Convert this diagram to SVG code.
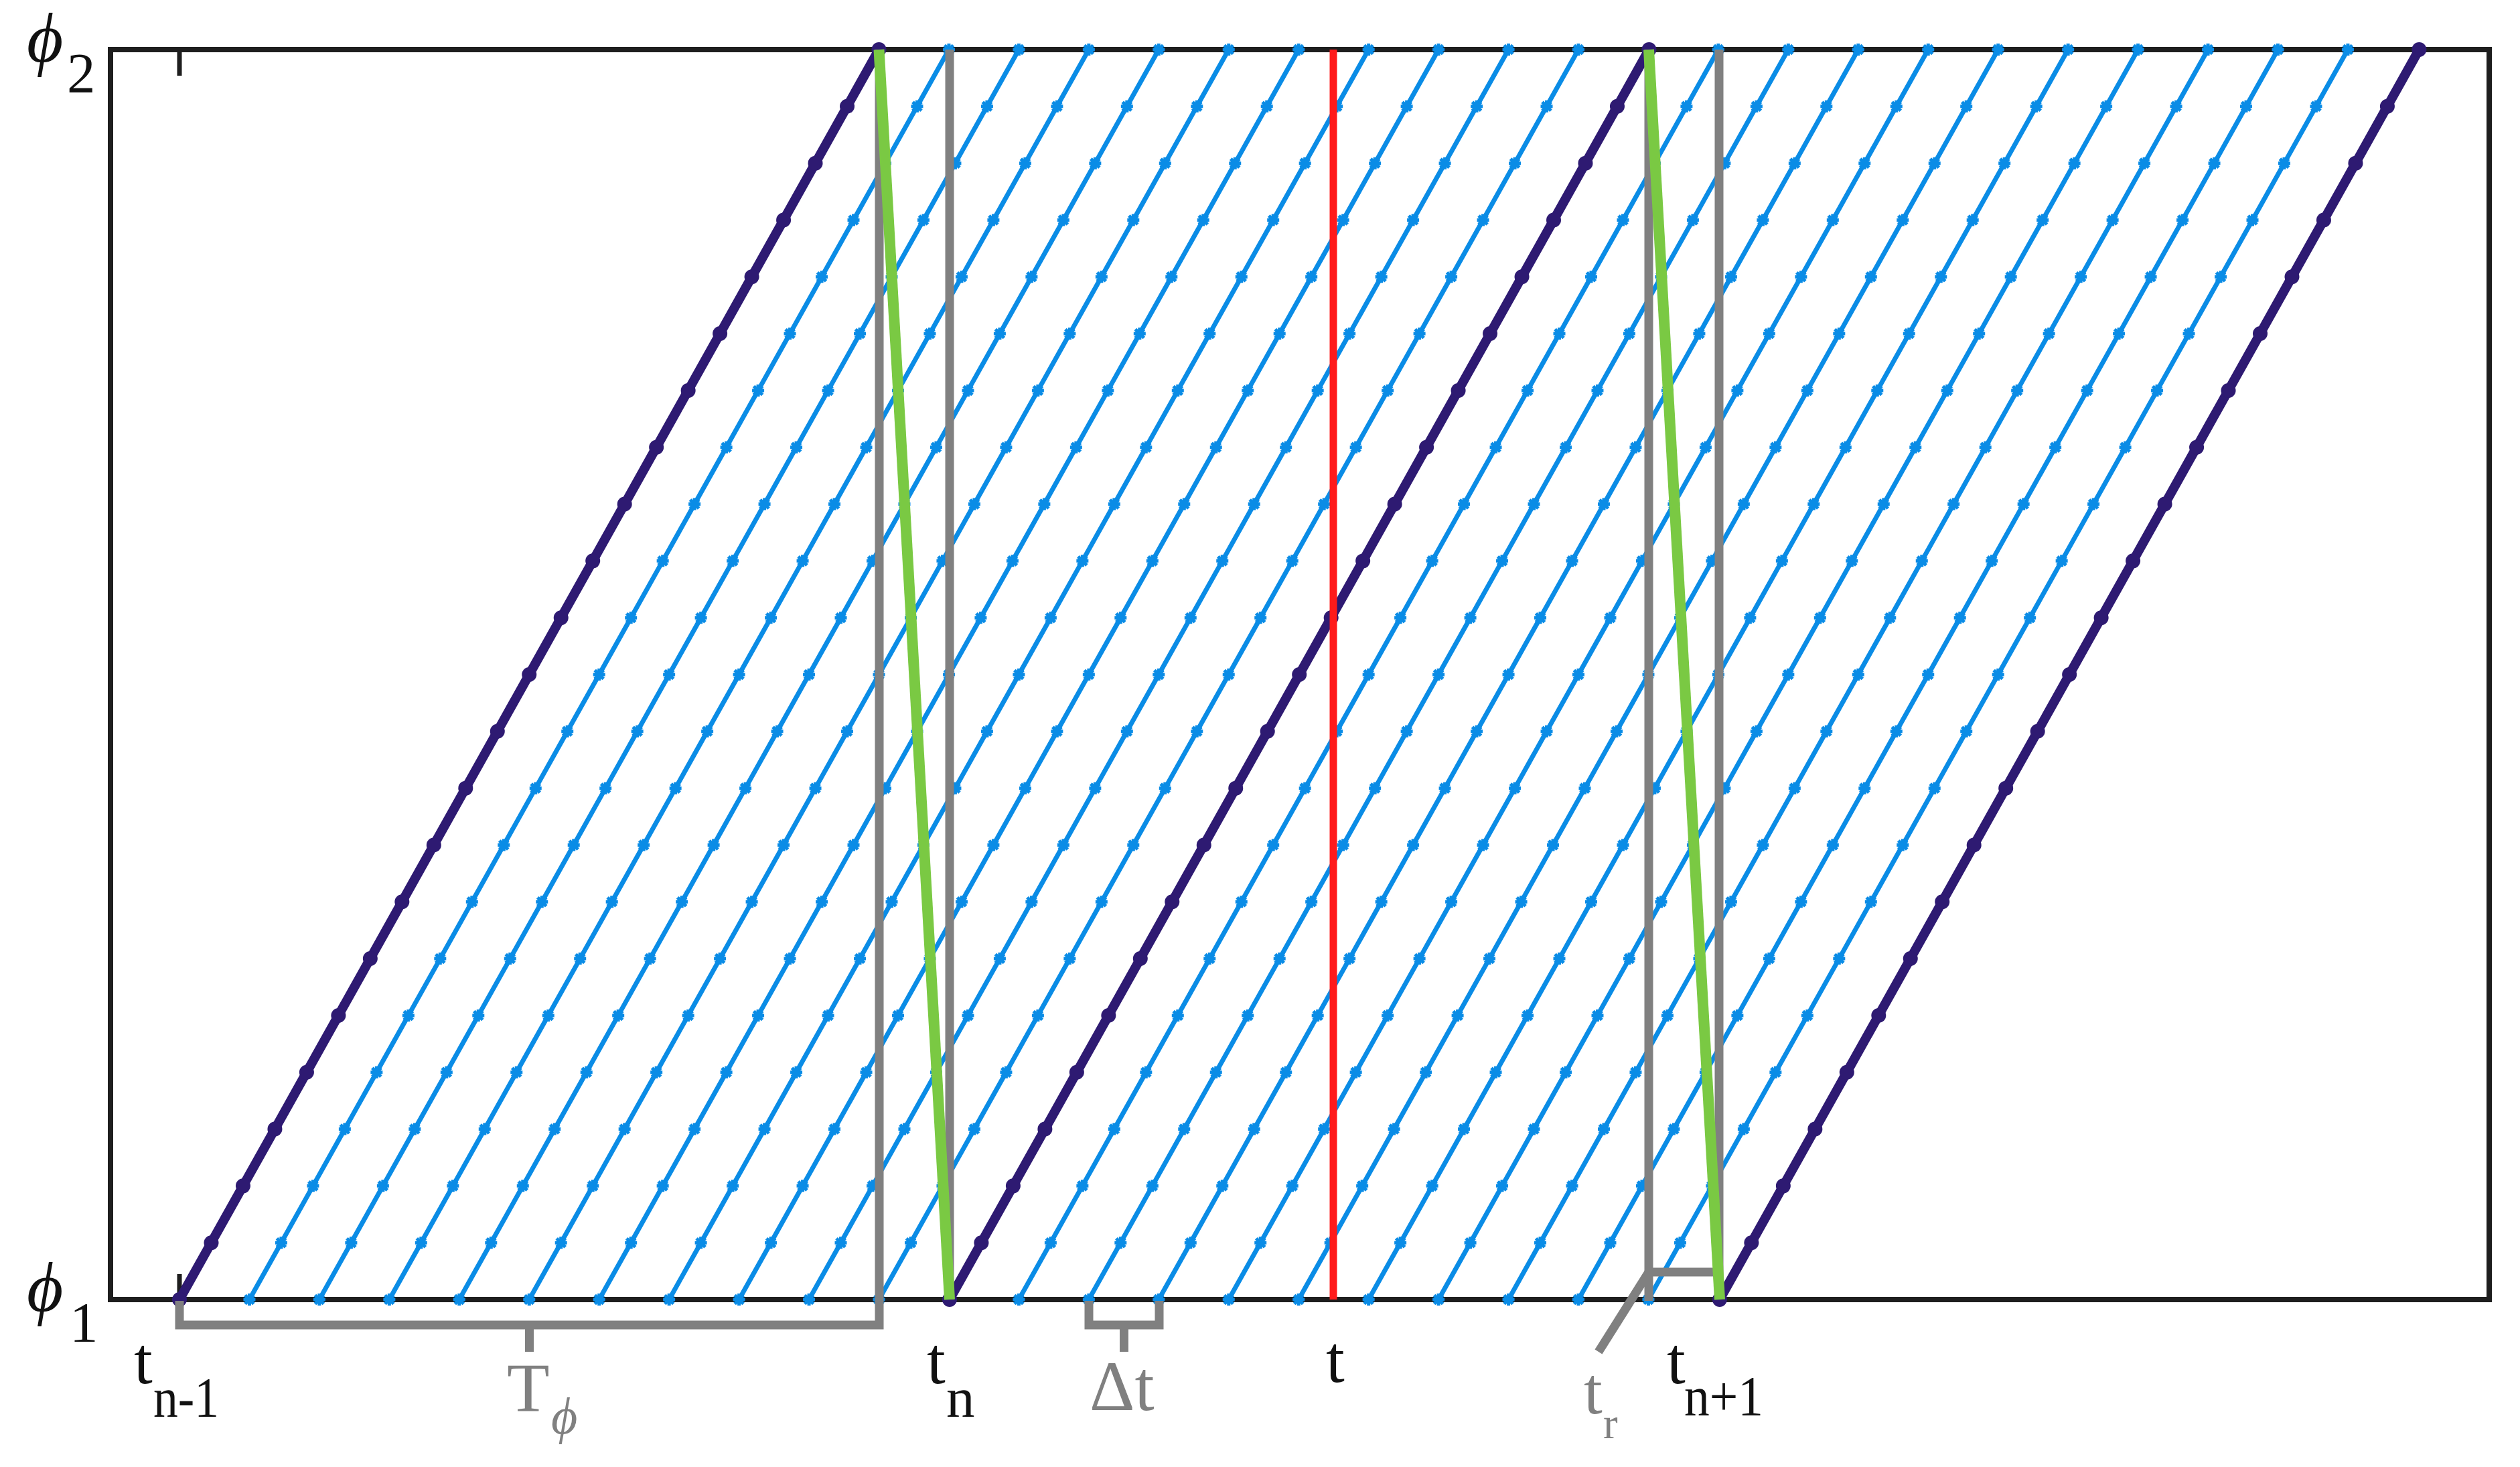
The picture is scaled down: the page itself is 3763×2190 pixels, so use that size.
<svg xmlns="http://www.w3.org/2000/svg" xmlns:xlink="http://www.w3.org/1999/xlink" width="3763" height="2190" viewBox="0 0 3763 2190">
<style>
.frame{fill:none;stroke:#1e1e1e;stroke-width:8}
.tick{stroke:#1e1e1e;stroke-width:7}
.blue{fill:none;stroke:#0a8ce6;stroke-width:7;marker-start:url(#mb);marker-mid:url(#mb);marker-end:url(#mb)}
.purple{fill:none;stroke:#2e1a72;stroke-width:14;marker-start:url(#mp);marker-mid:url(#mp);marker-end:url(#mp)}
.gray{fill:none;stroke:#808080;stroke-width:13;stroke-linejoin:miter}
.green{fill:none;stroke:#7ac943;stroke-width:16}
.red{fill:none;stroke:#ff1a1a;stroke-width:11}
.lbl{font-family:"Liberation Serif","Times New Roman",serif;fill:#111}
.lg{font-family:"Liberation Serif","Times New Roman",serif;fill:#808080}
.it{font-style:italic;font-family:"Liberation Serif","DejaVu Serif",serif}
</style>
<defs>
<marker id="mb" viewBox="-12 -12 24 24" markerWidth="24" markerHeight="24" markerUnits="userSpaceOnUse" refX="0" refY="0" overflow="visible">
<path d="M-9,0H9M0,-9V9M-6.5,-6.5L6.5,6.5M-6.5,6.5L6.5,-6.5" stroke="#0a8ce6" stroke-width="5" fill="none"/>
</marker>
<marker id="mp" viewBox="-12 -12 24 24" markerWidth="24" markerHeight="24" markerUnits="userSpaceOnUse" refX="0" refY="0" overflow="visible">
<circle r="11" fill="#2e1a72"/>
</marker>
<path id="bl" d="M0,1940l47.477-84.818l47.477-84.818l47.477-84.818l47.477-84.818l47.477-84.818l47.477-84.818l47.477-84.818l47.477-84.818l47.477-84.818l47.477-84.818l47.477-84.818l47.477-84.818l47.477-84.818l47.477-84.818l47.477-84.818l47.477-84.818l47.477-84.818l47.477-84.818l47.477-84.818l47.477-84.818l47.477-84.818l47.477-84.818"/>
</defs>
<rect x="0" y="0" width="3763" height="2190" fill="#ffffff"/>
<g id="axes">
<rect class="frame" x="165" y="74" width="3552" height="1866"/>
<line class="tick" x1="268" y1="74" x2="268" y2="113"/>
<line class="tick" x1="268" y1="1902" x2="268" y2="1940"/>
</g>
<g id="connectors">
<g id="blue-lines" class="blue">
<use xlink:href="#bl" x="372.45"/>
<use xlink:href="#bl" x="476.9"/>
<use xlink:href="#bl" x="581.35"/>
<use xlink:href="#bl" x="685.8"/>
<use xlink:href="#bl" x="790.25"/>
<use xlink:href="#bl" x="894.7"/>
<use xlink:href="#bl" x="999.15"/>
<use xlink:href="#bl" x="1103.6"/>
<use xlink:href="#bl" x="1208.05"/>
<use xlink:href="#bl" x="1312.5"/>
<use xlink:href="#bl" x="1521.4"/>
<use xlink:href="#bl" x="1625.85"/>
<use xlink:href="#bl" x="1730.3"/>
<use xlink:href="#bl" x="1834.75"/>
<use xlink:href="#bl" x="1939.2"/>
<use xlink:href="#bl" x="2043.65"/>
<use xlink:href="#bl" x="2148.1"/>
<use xlink:href="#bl" x="2252.55"/>
<use xlink:href="#bl" x="2357"/>
<use xlink:href="#bl" x="2461.45"/>
</g>
<g id="purple-lines" class="purple">
<use xlink:href="#bl" x="268"/>
<use xlink:href="#bl" x="1417.95"/>
<use xlink:href="#bl" x="2567.9"/>
</g>
<g id="brackets" class="gray">
<path d="M268,1942V1978H1313V74"/>
<path d="M790.5,1978V2018"/>
<path d="M1418,74V1940"/>
<path d="M1626,1942V1978H1731V1942"/>
<path d="M1678.5,1978V2018"/>
<path d="M2462,74V1942"/>
<path d="M2567,74V1899H2462"/>
<path d="M2462,1899L2387,2018"/>
</g>
<g id="green-lines" class="green">
<path d="M1312.5,74L1418,1940"/>
<path d="M2462,74L2568,1940"/>
</g>
<g id="red-line">
<path class="red" d="M1991,74V1940"/>
</g>
</g>
<g id="label-phi2">
<text class="lbl it" x="40" y="92" font-size="105">ϕ</text>
<text class="lbl" x="100" y="138" font-size="85">2</text>
</g>
<g id="label-phi1">
<text class="lbl it" x="40" y="1957" font-size="105">ϕ</text>
<text class="lbl" x="104" y="2003" font-size="85">1</text>
</g>
<g id="label-tn-1">
<text class="lbl" x="200" y="2065" font-size="100">t</text>
<text class="lbl" x="229" y="2115" font-size="85" textLength="98" lengthAdjust="spacingAndGlyphs">n-1</text>
</g>
<g id="label-Tphi">
<text class="lg" x="757" y="2107" font-size="104">T</text>
<text class="lg it" x="823" y="2140" font-size="76">ϕ</text>
</g>
<g id="label-tn">
<text class="lbl" x="1384" y="2065" font-size="100">t</text>
<text class="lbl" x="1413" y="2115" font-size="85">n</text>
</g>
<g id="label-dt">
<text class="lg" x="1627" y="2105" font-size="105">Δt</text>
</g>
<g id="label-t">
<text class="lbl" x="1980" y="2063" font-size="100">t</text>
</g>
<g id="label-tr">
<text class="lg" x="2365" y="2110" font-size="100">t</text>
<text class="lg" x="2394" y="2147" font-size="65">r</text>
</g>
<g id="label-tn+1">
<text class="lbl" x="2489" y="2065" font-size="100">t</text>
<text class="lbl" x="2515" y="2113" font-size="85" textLength="118" lengthAdjust="spacingAndGlyphs">n+1</text>
</g>
</svg>
